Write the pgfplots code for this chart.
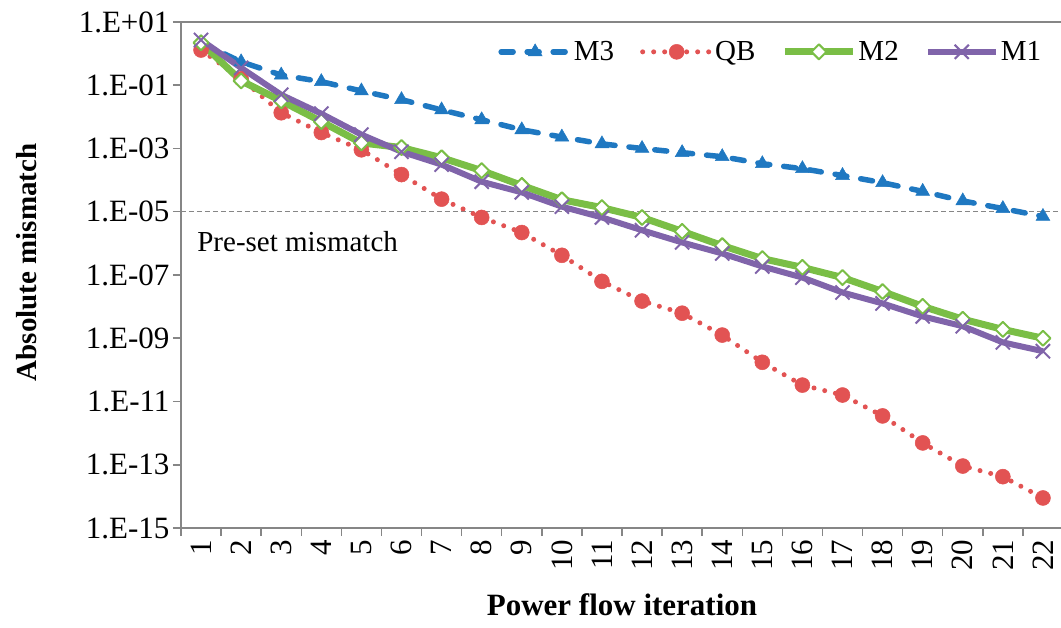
\documentclass[border=0pt]{standalone}
\usepackage{fontspec}
\setmainfont{Liberation Serif}
\usepackage{pgfplots}
\pgfplotsset{compat=1.18}
\definecolor{cMthree}{RGB}{31,120,193}
\definecolor{cQB}{RGB}{226,83,83}
\definecolor{cMtwo}{RGB}{122,190,70}
\definecolor{cMone}{RGB}{128,100,170}
\definecolor{axgray}{RGB}{134,134,134}
\newcommand\bigf{\fontsize{31}{37}\selectfont}
\newcommand\midf{\fontsize{29}{35}\selectfont}
\begin{document}
\begin{tikzpicture}
\useasboundingbox (-181pt,-100pt) rectangle (880pt,528pt);
\begin{axis}[
  name=ax,
  scale only axis, width=882pt, height=506pt,
  at={(0,0)}, anchor=south west,
  axis x line*=bottom, axis y line*=left,
  xtick pos=bottom, ytick pos=left,
  ymode=log, ymin=1e-15, ymax=10,
  ytick={1e1,1e-1,1e-3,1e-5,1e-7,1e-9,1e-11,1e-13,1e-15},
  yticklabels={1.E+01,1.E-01,1.E-03,1.E-05,1.E-07,1.E-09,1.E-11,1.E-13,1.E-15},
  yminorticks=false,
  xmin=0.5, xmax=22.5,
  xtick={1,2,3,4,5,6,7,8,9,10,11,12,13,14,15,16,17,18,19,20,21,22},
  xticklabels={1,2,3,4,5,6,7,8,9,10,11,12,13,14,15,16,17,18,19,20,21,22},
  major x tick style={draw=none},
  minor xtick={0.5,1.5,...,22.5},
  tick align=outside,
  major tick length=8pt, minor tick length=8pt,
  every tick/.style={axgray, line width=1.5pt},
  axis line style={axgray, line width=2.5pt},
  ticklabel style={font=\bigf},
  xticklabel style={rotate=90, anchor=east},
  yticklabel style={anchor=east},
  every axis y label/.style={at={(axis description cs:-0.175,0.525)}, rotate=90, anchor=center, font=\midf\bfseries},
  every axis x label/.style={at={(axis description cs:0.5,-0.152)}, anchor=center, font=\bigf\bfseries},
  ylabel={Absolute mismatch},
  xlabel={Power flow iteration},
  legend columns=4,
  legend style={draw=none, fill=none, at={(axis description cs:0.981,0.941)}, anchor=east, font=\midf,
    /tikz/every even column/.append style={column sep=24pt}},
  legend image code/.code={\draw[mark repeat=2, mark phase=2] plot coordinates {(0pt,0pt) (34pt,0pt) (68pt,0pt)};},
]
\addplot[forget plot, axgray, line width=1pt, dash pattern=on 5pt off 3pt] coordinates {(0.5,1e-5) (22.5,1e-5)};
\addplot[forget plot, axgray, line width=3pt, mark=none] coordinates {(0.5,10) (22.5,10)};
\addplot[cMthree, line width=5.5pt, line cap=round, dash pattern=on 12pt off 14pt,
  mark=triangle*, mark size=8pt, mark options={solid, fill=cMthree, draw=cMthree, line width=0.5pt}] coordinates {
(1,2.2) (2,0.55) (3,0.21) (4,0.13) (5,0.066) (6,0.035) (7,0.0166) (8,8.1e-3) (9,3.9e-3) (10,2.3e-3) (11,1.4e-3)
(12,1.0e-3) (13,7.4e-4) (14,5.5e-4) (15,3.3e-4) (16,2.3e-4) (17,1.4e-4) (18,8.3e-5) (19,4.4e-5) (20,2.2e-5) (21,1.26e-5) (22,7.1e-6)};
\addlegendentry{M3}
\addplot[cQB, line width=5pt, line cap=round, dash pattern=on 0pt off 11pt,
  mark=*, mark size=7.5pt, mark options={solid, fill=cQB, draw=cQB, line width=0.5pt}] coordinates {
(1,1.3) (2,0.16) (3,1.35e-2) (4,3.2e-3) (5,9.1e-4) (6,1.5e-4) (7,2.5e-5) (8,6.6e-6) (9,2.2e-6) (10,4.2e-7) (11,6.3e-8)
(12,1.5e-8) (13,6.2e-9) (14,1.26e-9) (15,1.74e-10) (16,3.3e-11) (17,1.6e-11) (18,3.5e-12) (19,4.9e-13) (20,9.1e-14) (21,4.2e-14) (22,8.9e-15)};
\addlegendentry{QB}
\addplot[cMtwo, line width=7pt, line join=round,
  mark=square*, mark size=5.3pt, mark options={solid, rotate=45, fill=white, draw=cMtwo, line width=2pt}] coordinates {
(1,2.2) (2,0.138) (3,3.2e-2) (4,7.1e-3) (5,1.5e-3) (6,1.07e-3) (7,5.1e-4) (8,2.0e-4) (9,6.8e-5) (10,2.4e-5) (11,1.35e-5)
(12,6.6e-6) (13,2.4e-6) (14,8.5e-7) (15,3.3e-7) (16,1.74e-7) (17,8.3e-8) (18,3.0e-8) (19,1.02e-8) (20,4.0e-9) (21,1.9e-9) (22,1.0e-9)};
\addlegendentry{M2}
\addplot[cMone, line width=6pt, line join=round,
  mark=x, mark size=10pt, mark options={solid, draw=cMone, line width=2pt}] coordinates {
(1,2.7) (2,0.355) (3,5.0e-2) (4,1.26e-2) (5,2.75e-3) (6,7.9e-4) (7,3.1e-4) (8,8.9e-5) (9,4.1e-5) (10,1.45e-5) (11,6.6e-6)
(12,2.6e-6) (13,1.07e-6) (14,4.8e-7) (15,1.86e-7) (16,8.3e-8) (17,2.8e-8) (18,1.26e-8) (19,4.9e-9) (20,2.4e-9) (21,7.4e-10) (22,3.9e-10)};
\addlegendentry{M1}
\node[anchor=west, font=\midf] at (axis cs:0.82,1.15e-6) {Pre-set mismatch};
\end{axis}
\end{tikzpicture}
\end{document}
